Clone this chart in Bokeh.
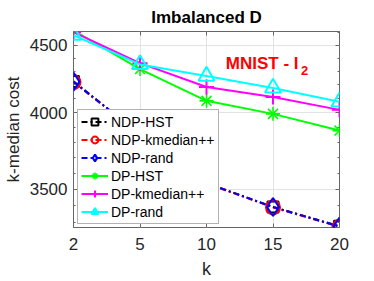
import math
from bokeh.plotting import figure
from bokeh.models import (Range1d, FixedTicker, LogAxis, LinearAxis, Label)
from bokeh.embed import file_html
from bokeh.resources import INLINE

# ---- data ----
ks = [2, 5, 10, 15, 20]
ndp_hst = [4225, 3852, 3538, 3393, 3280]
ndp_kmedpp = [4220, 3849, 3535, 3390, 3277]
ndp_rand = [4223, 3851, 3537, 3392, 3279]
dp_hst = [4618, 4317, 4084, 3992, 3877]
dp_kmedpp = [4605, 4362, 4184, 4112, 4020]
dp_rand = [4580, 4352, 4265, 4177, 4077]
y_major = [3500, 4000, 4500]
y_minor = [3300, 3400, 3600, 3700, 3800, 3900, 4100, 4200, 4300, 4400, 4600]

xs = list(range(len(ks)))
FONT = "Liberation Sans"
AX = "#262626"
EDGE = "#666666"

p = figure(width=366, height=281, output_backend="svg", toolbar_location=None,
           x_range=Range1d(0, len(ks) - 1), y_range=Range1d(3273, 4610),
           y_axis_type="log", min_border_left=72, min_border_right=27,
           min_border_top=22, min_border_bottom=45)
p.background_fill_color = "white"
p.border_fill_color = "white"
p.outline_line_color = EDGE
p.outline_line_width = 1

# title
p.title.text = "Imbalanced D"
p.title.align = "center"
p.title.text_font = FONT
p.title.text_font_size = "17px"
p.title.text_font_style = "bold"
p.title.text_color = "black"

# axes
xa = p.xaxis[0]
xa.ticker = FixedTicker(ticks=xs)
xa.major_label_overrides = {i: str(k) for i, k in zip(xs, ks)}
xa.axis_label = "k"
ya = p.yaxis[0]
ya.ticker = FixedTicker(ticks=y_major, minor_ticks=y_minor)
ya.major_label_overrides = {v: str(v) for v in y_major}
ya.axis_label = "k-median cost"
for ax in (xa, ya):
    ax.axis_line_color = None
    ax.major_tick_out = 0
    ax.major_tick_in = 4
    ax.minor_tick_out = 0
    ax.minor_tick_in = 2
    ax.major_tick_line_color = EDGE
    ax.minor_tick_line_color = EDGE
    ax.major_label_text_font = FONT
    ax.major_label_text_font_size = "17px"
    ax.major_label_text_color = AX
    ax.axis_label_text_font = FONT
    ax.axis_label_text_font_size = "18px"
    ax.axis_label_text_font_style = "normal"
    ax.axis_label_text_color = AX
xa.major_label_standoff = 10
xa.axis_label_standoff = 6
ya.major_label_standoff = 6
ya.axis_label_standoff = 4
ya.axis_label_text_font_size = "17px"

# box ticks on right/top
ra = LogAxis(ticker=FixedTicker(ticks=y_major, minor_ticks=y_minor))
ra.major_label_overrides = {v: "" for v in y_major}
ta = LinearAxis(ticker=FixedTicker(ticks=xs))
ta.major_label_overrides = {i: "" for i in xs}
for ax in (ra, ta):
    ax.axis_line_color = None
    ax.major_tick_out = 0
    ax.major_tick_in = 4
    ax.minor_tick_out = 0
    ax.minor_tick_in = 2
    ax.major_tick_line_color = EDGE
    ax.minor_tick_line_color = EDGE
    ax.major_label_standoff = 0
p.add_layout(ra, "right")
p.add_layout(ta, "above")

p.xgrid.ticker = FixedTicker(ticks=xs)
p.ygrid.ticker = FixedTicker(ticks=y_major)
p.xgrid.grid_line_color = "#e3e3e3"
p.ygrid.grid_line_color = "#e3e3e3"

LW = 2
DASH = "6 3 2 3"

def series(vals, color, label, marker, size, dash="solid", mlw=2):
    p.line(xs, vals, line_color=color, line_width=LW, line_dash=dash, legend_label=label)
    markers = marker if isinstance(marker, tuple) else (marker,)
    for m in markers:
        p.scatter(xs, vals, marker=m, size=size, line_color=color, line_width=mlw,
                  fill_alpha=0, legend_label=label)

series(ndp_hst, "black", "NDP-HST", "square", 11, DASH)
series(ndp_kmedpp, "#ff0000", "NDP-kmedian++", "circle", 14, DASH)
series(ndp_rand, "#0000ff", "NDP-rand", "diamond", 18, DASH)
series(dp_hst, "#00ff00", "DP-HST", ("cross", "x"), 14, mlw=1.6)
series(dp_kmedpp, "#ff00ff", "DP-kmedian++", "cross", 15)
series(dp_rand, "#00ffff", "DP-rand", "triangle", 16)

# annotation
p.add_layout(Label(x=2.29, y=4362, text="MNIST - l", text_font=FONT, text_font_size="17px",
                   text_font_style="bold", text_color="#ff0000", text_baseline="alphabetic"))
p.add_layout(Label(x=3.42, y=4305, text="2", text_font=FONT, text_font_size="13px",
                   text_font_style="bold", text_color="#ff0000", text_baseline="alphabetic"))

lg = p.legend[0]
lg.location = (4, 3)
lg.border_line_color = EDGE
lg.border_line_width = 1
lg.background_fill_color = "white"
lg.background_fill_alpha = 1
lg.padding = 3
lg.spacing = 1
lg.margin = 0
lg.glyph_width = 27
lg.glyph_height = 17
lg.label_height = 17
lg.label_standoff = 3
lg.label_text_font = FONT
lg.label_text_font_size = "14px"
lg.label_text_color = "black"

open("out.html", "w").write(file_html(p, INLINE))
